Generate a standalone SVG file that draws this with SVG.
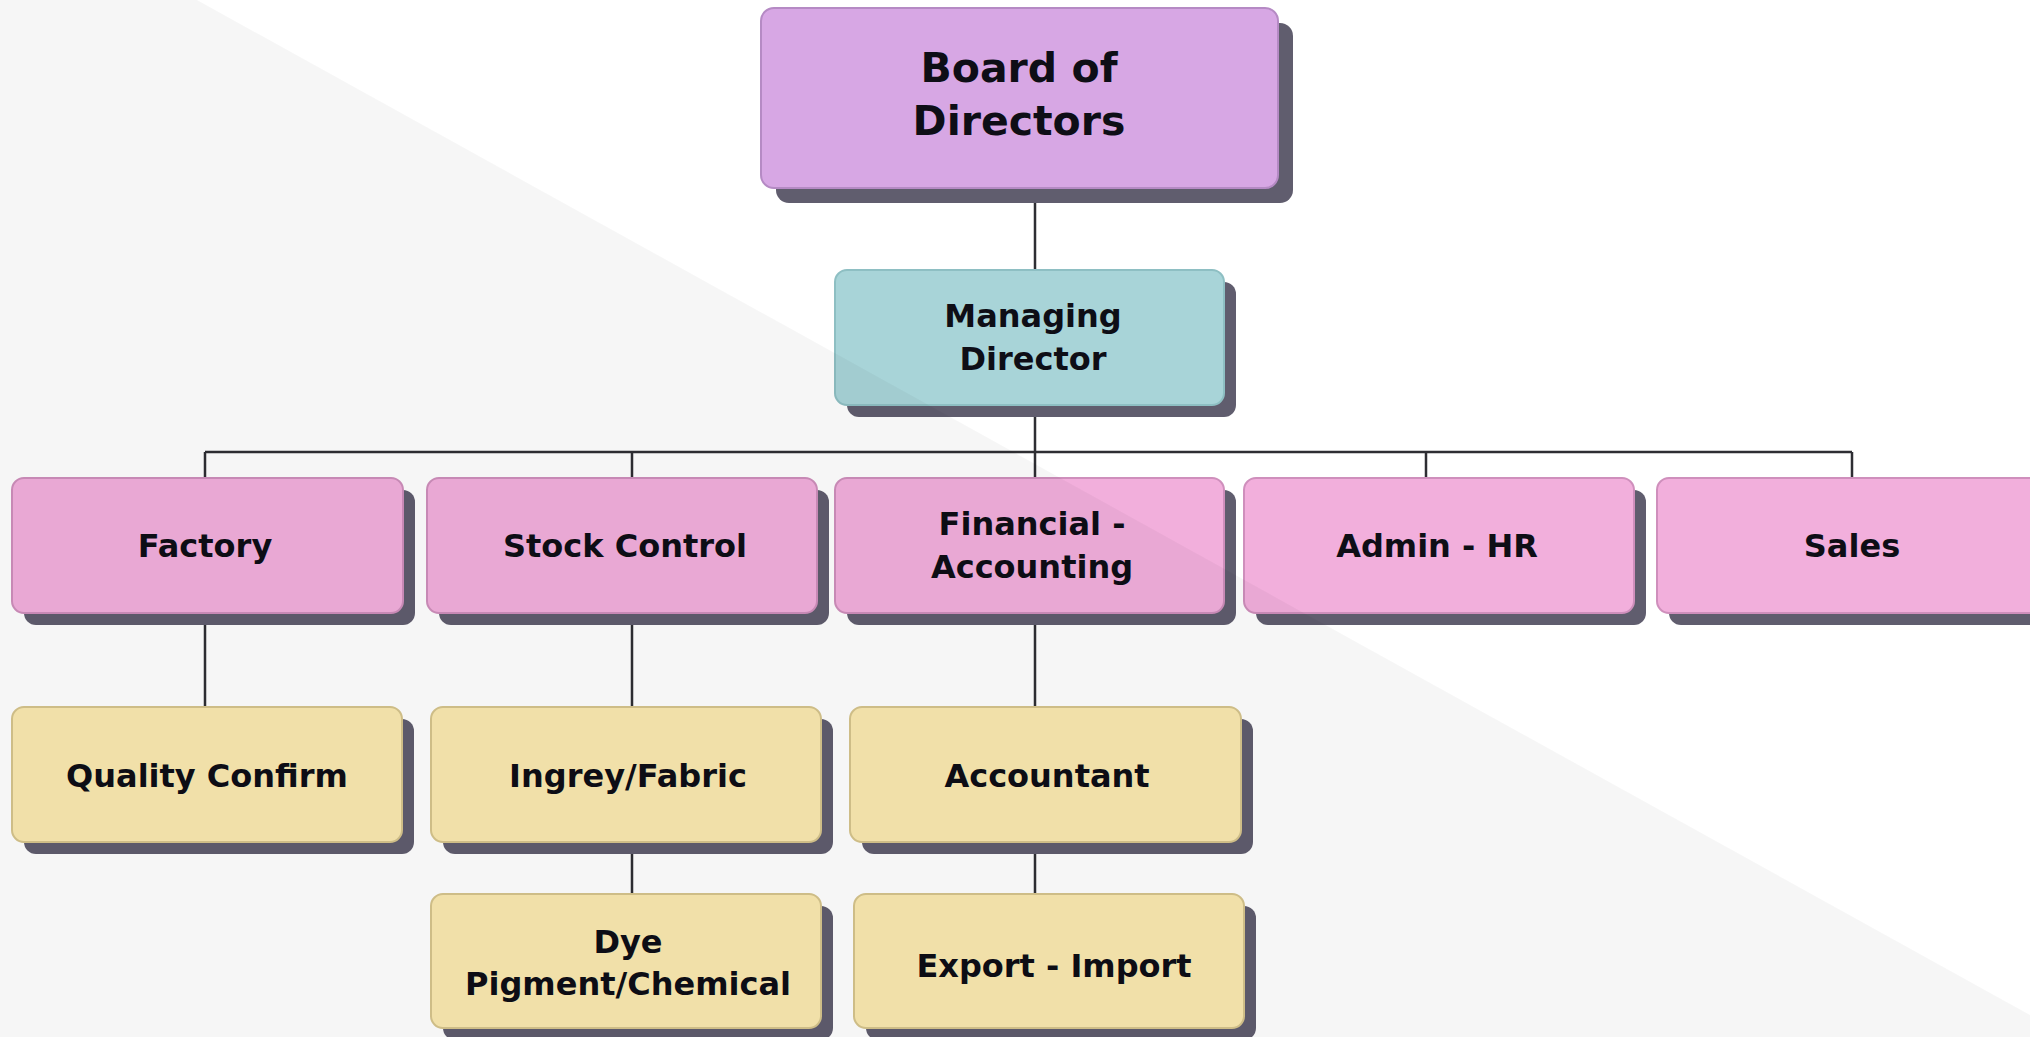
<svg xmlns="http://www.w3.org/2000/svg" width="2030" height="1037" viewBox="0 0 2030 1037">
<defs>
<style>
.sh{fill:#605d6e}
.bx{stroke-width:2}
.board{fill:#d7a7e4;stroke:#b58ac4}
.md{fill:#a8d4d8;stroke:#8ebfc3}
.dept{fill:#f2afdc;stroke:#cf8fbc}
.sub{fill:#fae9b0;stroke:#d6c48c}
.t{font-family:"DejaVu Sans","Liberation Sans",sans-serif;font-weight:bold;fill:#0e0e16;text-anchor:middle;font-size:32px}
.tb{font-size:41px}
.ln{stroke:#2e2e33;stroke-width:2.5;fill:none}
</style>
</defs>
<rect x="0" y="0" width="2030" height="1037" fill="#ffffff"/>
<g id="connectors">
<path class="ln" d="M1035 188V270M1035 405V452M205 452H1852M205 452V478M632 452V478M1035 452V478M1426 452V478M1852 452V478M205 613V707M632 613V707M1035 613V707M632 842V894M1035 842V894"/>
</g>
<g id="board">
<rect class="sh" x="776" y="23" width="517" height="180" rx="13"/>
<rect class="bx board" x="761" y="8" width="517" height="180" rx="13"/>
<text class="t tb" x="1019" y="82">Board of</text>
<text class="t tb" x="1019" y="135">Directors</text>
</g>
<g id="managing-director">
<rect class="sh" x="847" y="282" width="389" height="135" rx="12"/>
<rect class="bx md" x="835" y="270" width="389" height="135" rx="12"/>
<text class="t" x="1033" y="327">Managing</text>
<text class="t" x="1033" y="370">Director</text>
</g>
<g id="factory">
<rect class="sh" x="24" y="490" width="391" height="135" rx="12"/>
<rect class="bx dept" x="12" y="478" width="391" height="135" rx="12"/>
<text class="t" x="205" y="557">Factory</text>
</g>
<g id="stock-control">
<rect class="sh" x="439" y="490" width="390" height="135" rx="12"/>
<rect class="bx dept" x="427" y="478" width="390" height="135" rx="12"/>
<text class="t" x="625" y="557">Stock Control</text>
</g>
<g id="financial-accounting">
<rect class="sh" x="847" y="490" width="389" height="135" rx="12"/>
<rect class="bx dept" x="835" y="478" width="389" height="135" rx="12"/>
<text class="t" x="1032" y="535">Financial -</text>
<text class="t" x="1032" y="578">Accounting</text>
</g>
<g id="admin-hr">
<rect class="sh" x="1256" y="490" width="390" height="135" rx="12"/>
<rect class="bx dept" x="1244" y="478" width="390" height="135" rx="12"/>
<text class="t" x="1437" y="557">Admin - HR</text>
</g>
<g id="sales">
<rect class="sh" x="1669" y="490" width="390" height="135" rx="12"/>
<rect class="bx dept" x="1657" y="478" width="390" height="135" rx="12"/>
<text class="t" x="1852" y="557">Sales</text>
</g>
<g id="quality-confirm">
<rect class="sh" x="24" y="719" width="390" height="135" rx="12"/>
<rect class="bx sub" x="12" y="707" width="390" height="135" rx="12"/>
<text class="t" x="207" y="787">Quality Confirm</text>
</g>
<g id="ingrey-fabric">
<rect class="sh" x="443" y="719" width="390" height="135" rx="12"/>
<rect class="bx sub" x="431" y="707" width="390" height="135" rx="12"/>
<text class="t" x="628" y="787">Ingrey/Fabric</text>
</g>
<g id="accountant">
<rect class="sh" x="862" y="719" width="391" height="135" rx="12"/>
<rect class="bx sub" x="850" y="707" width="391" height="135" rx="12"/>
<text class="t" x="1047" y="787">Accountant</text>
</g>
<g id="dye-pigment-chemical">
<rect class="sh" x="443" y="906" width="390" height="134" rx="12"/>
<rect class="bx sub" x="431" y="894" width="390" height="134" rx="12"/>
<text class="t" x="628" y="953">Dye</text>
<text class="t" x="628" y="995">Pigment/Chemical</text>
</g>
<g id="export-import">
<rect class="sh" x="866" y="906" width="390" height="134" rx="12"/>
<rect class="bx sub" x="854" y="894" width="390" height="134" rx="12"/>
<text class="t" x="1054" y="977">Export - Import</text>
</g>
<polygon points="0,0 197,0 2030,1015 2030,1037 0,1037" fill="#000" fill-opacity="0.035"/>
</svg>
